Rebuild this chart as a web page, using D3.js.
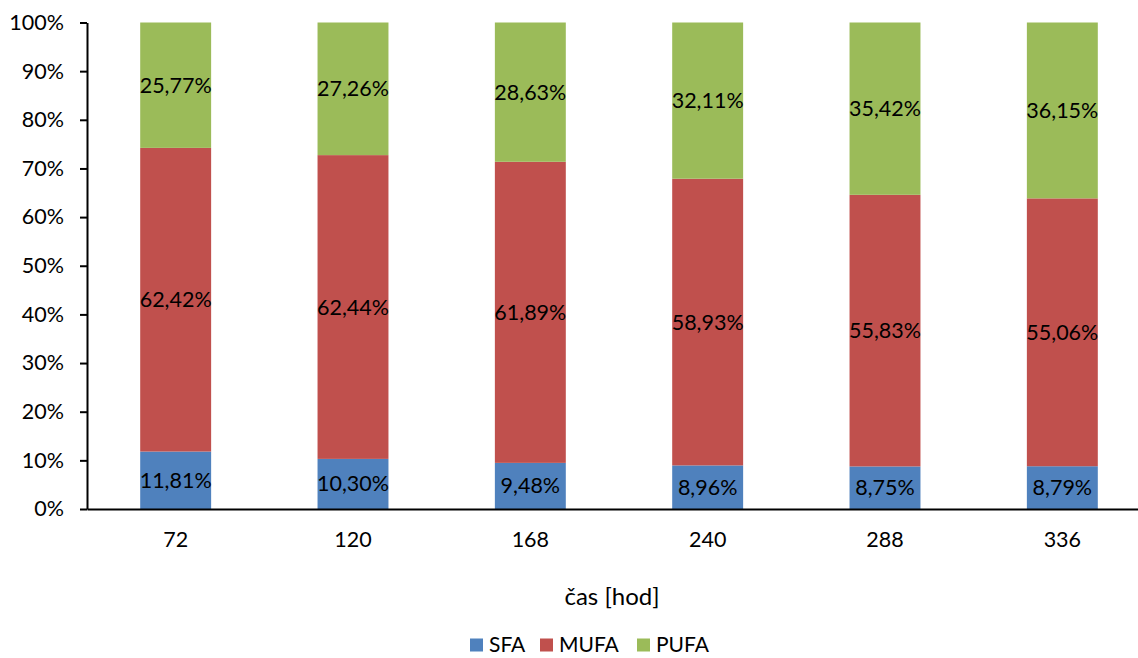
<!DOCTYPE html>
<html>
<head>
<meta charset="utf-8">
<script src="https://cdn.jsdelivr.net/npm/d3@7"></script>
<style>
  html, body { margin: 0; padding: 0; background: #fff; }
  svg { display: block; font-family: Lato, "Open Sans", sans-serif; }
</style>
</head>
<body>
<svg id="chart" width="1138" height="658"></svg>
<script>
// Fatty-acid composition over time (shares of total, %)
const categories = ["72", "120", "168", "240", "288", "336"];
const seriesNames = ["SFA", "MUFA", "PUFA"];
const sfa  = [11.81, 10.30, 9.48, 8.96, 8.75, 8.79];
const mufa = [62.42, 62.44, 61.89, 58.93, 55.83, 55.06];
const pufa = [25.77, 27.26, 28.63, 32.11, 35.42, 36.15];
const yTicks = [0, 10, 20, 30, 40, 50, 60, 70, 80, 90, 100];
const colors = ["#4F81BD", "#C0504D", "#9BBB59"];

const rows = categories.map((c, i) => ({ cat: c, SFA: sfa[i], MUFA: mufa[i], PUFA: pufa[i] }));

const svg = d3.select("#chart");
const plotLeft = 87, plotRight = 1151, plotTop = 22.5, plotBottom = 509;
const fontSize = 21.5;

const x = d3.scaleBand().domain(categories).range([plotLeft, plotRight])
  .paddingInner(0.6).paddingOuter(0.3);
const y = d3.scaleLinear().domain([0, 100]).range([plotBottom, plotTop]);
const color = d3.scaleOrdinal().domain(seriesNames).range(colors);

const stacked = d3.stack().keys(seriesNames)(rows);

const fmt = v => v.toFixed(2).replace(".", ",") + "%";

// bars
const layers = svg.append("g").selectAll("g").data(stacked).join("g")
  .attr("fill", d => color(d.key));
layers.selectAll("rect").data(d => d).join("rect")
  .attr("x", d => x(d.data.cat))
  .attr("width", x.bandwidth())
  .attr("y", d => y(d[1]))
  .attr("height", d => y(d[0]) - y(d[1]));

// value labels centred in each segment
layers.selectAll("text").data(d => d.map(p => ({ p, key: d.key }))).join("text")
  .attr("x", d => x(d.p.data.cat) + x.bandwidth() / 2)
  .attr("y", d => (y(d.p[0]) + y(d.p[1])) / 2)
  .attr("dy", "0.35em")
  .attr("text-anchor", "middle")
  .attr("font-size", fontSize)
  .attr("fill", "#000")
  .text(d => fmt(d.p.data[d.key]));

// y axis
const yAxis = svg.append("g").attr("transform", `translate(${plotLeft},0)`)
  .call(d3.axisLeft(y).tickValues(yTicks).tickFormat(d => d + "%").tickSize(7).tickSizeOuter(0));
yAxis.select(".domain").attr("stroke", "#000").attr("stroke-width", 2);
yAxis.selectAll(".tick line").attr("stroke", "#000").attr("stroke-width", 2);
yAxis.selectAll(".tick text").attr("font-size", fontSize).attr("font-family", "Lato, 'Open Sans', sans-serif")
  .attr("fill", "#000").attr("x", -23);

// x axis
const xAxis = svg.append("g").attr("transform", `translate(0,${plotBottom})`)
  .call(d3.axisBottom(x).tickSize(0).tickSizeOuter(0));
xAxis.select(".domain").attr("stroke", "#000").attr("stroke-width", 2);
xAxis.selectAll(".tick text").attr("font-size", fontSize).attr("font-family", "Lato, 'Open Sans', sans-serif")
  .attr("fill", "#000").attr("y", 23);

// axis title
svg.append("text").attr("x", 612).attr("y", 597).attr("dy", "0.35em")
  .attr("text-anchor", "middle").attr("font-size", 24).text("čas [hod]");

// legend
const legendX = [470, 540, 637];
const legend = svg.append("g").selectAll("g").data(seriesNames).join("g")
  .attr("transform", (d, i) => `translate(${legendX[i]},645)`);
legend.append("rect").attr("x", 0).attr("y", -6.5).attr("width", 13).attr("height", 13)
  .attr("fill", d => color(d));
legend.append("text").attr("x", 19).attr("dy", "0.35em").attr("font-size", 21).text(d => d);
</script>
</body>
</html>
